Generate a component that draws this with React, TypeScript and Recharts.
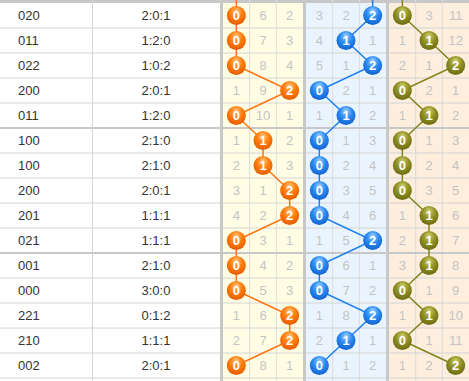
import React from 'react';
import { ScatterChart, Scatter, XAxis, YAxis, ReferenceArea, ReferenceLine } from 'recharts';

// draw numbers (one digit per position) and the 0:1:2 ratio of each draw
const drawNumbers = ['020', '011', '022', '200', '011', '100', '100', '200', '201', '021', '001', '000', '221', '210', '002'];
const drawRatios = ['2:0:1', '1:2:0', '1:0:2', '2:0:1', '1:2:0', '2:1:0', '2:1:0', '2:0:1', '1:1:1', '1:1:1', '2:1:0', '3:0:0', '0:1:2', '1:1:1', '2:0:1'];

// miss counts for values 0 / 1 / 2 in each position (0 where the value hit)
const firstMiss = [
  [0, 6, 2], [0, 7, 3], [0, 8, 4], [1, 9, 0], [0, 10, 1],
  [1, 0, 2], [2, 0, 3], [3, 1, 0], [4, 2, 0], [0, 3, 1],
  [0, 4, 2], [0, 5, 3], [1, 6, 0], [2, 7, 0], [0, 8, 1],
];
const secondMiss = [
  [3, 2, 0], [4, 0, 1], [5, 1, 0], [0, 2, 1], [1, 0, 2],
  [0, 1, 3], [0, 2, 4], [0, 3, 5], [0, 4, 6], [1, 5, 0],
  [0, 6, 1], [0, 7, 2], [1, 8, 0], [2, 0, 1], [0, 1, 2],
];
const thirdMiss = [
  [0, 3, 11], [1, 0, 12], [2, 1, 0], [0, 2, 1], [1, 0, 2],
  [0, 1, 3], [0, 2, 4], [0, 3, 5], [1, 0, 6], [2, 0, 7],
  [3, 0, 8], [0, 1, 9], [1, 0, 10], [0, 1, 11], [1, 2, 0],
];
// value of the draw just above the visible part (trend lines come in from the top)
const previousHits = [0, 2, 0];

const W = 469;
const H = 381;
const ROW_DOMAIN: [number, number] = [-0.62, 14.62];
const FONT = '"Liberation Sans", Arial, sans-serif';

const groups = [
  { id: 'p1', miss: firstMiss, bg: '#fffde4', line: '#ff7410', light: '#ffc27a', mid: '#ff7d0c', dark: '#e45c00', pad: { left: 223, right: 166 } },
  { id: 'p2', miss: secondMiss, bg: '#eaf4fe', line: '#1f80ef', light: '#9ccfff', mid: '#2b8bf2', dark: '#1262cf', pad: { left: 306, right: 83 } },
  { id: 'p3', miss: thirdMiss, bg: '#fdeedd', line: '#83831a', light: '#cfcf6a', mid: '#909026', dark: '#6c6c10', pad: { left: 389, right: 0 } },
];

const ballShape = (g: any) => (props: any) => {
  const { cx, cy, payload } = props;
  if (payload.row < 0) return <g />;
  return (
    <g>
      <circle cx={cx} cy={cy} r={9.5} fill={`url(#ball-${g.id})`} />
      <text x={cx} y={cy + 4.5} textAnchor="middle" fill="#fff" fontSize={13} fontWeight="bold" fontFamily={FONT}>
        {payload.col}
      </text>
    </g>
  );
};

const missShape = (props: any) => {
  const { cx, cy, payload } = props;
  return (
    <text x={cx} y={cy + 4.5} textAnchor="middle" fill="#c4c4c4" fontSize={13} fontFamily={FONT}>
      {payload.value}
    </text>
  );
};

const infoShape = (props: any) => {
  const { cy, payload } = props;
  return (
    <g fontSize={13} fontFamily={FONT} fill="#333">
      <text x={18} y={cy + 4.5}>{payload.num}</text>
      <text x={156} y={cy + 4.5} textAnchor="middle">{payload.ratio}</text>
    </g>
  );
};

export default function App() {
  const rows = drawNumbers.map((_, i) => i);
  const infoData = drawNumbers.map((num, i) => ({ col: 0, row: i, num, ratio: drawRatios[i] }));

  return (
    <div style={{ position: 'absolute', left: 0, top: 0, width: W, height: H, background: '#fff' }}>
      <ScatterChart width={W} height={H} margin={{ top: 0, right: 0, bottom: 0, left: 0 }}>
        <defs>
          {groups.map((g) => (
            <radialGradient key={g.id} id={`ball-${g.id}`} cx="50%" cy="40%" r="60%" fx="50%" fy="22%">
              <stop offset="0%" stopColor={g.light} />
              <stop offset="55%" stopColor={g.mid} />
              <stop offset="100%" stopColor={g.dark} />
            </radialGradient>
          ))}
        </defs>
        <XAxis xAxisId="info" type="number" dataKey="col" domain={[0, W]} hide allowDataOverflow />
        {groups.map((g) => (
          <XAxis key={g.id} xAxisId={g.id} type="number" dataKey="col" domain={[-0.5, 2.5]} padding={g.pad} hide allowDataOverflow />
        ))}
        <YAxis type="number" dataKey="row" domain={ROW_DOMAIN} reversed hide allowDataOverflow />

        {groups.map((g) => (
          <ReferenceArea key={`bg-${g.id}`} xAxisId={g.id} x1={-0.5} x2={2.5} y1={ROW_DOMAIN[0]} y2={ROW_DOMAIN[1]}
            fill={g.bg} fillOpacity={1} stroke="none" ifOverflow="visible" />
        ))}
        <ReferenceArea xAxisId="info" x1={0} x2={W} y1={ROW_DOMAIN[0]} y2={-0.5} fill="#c8c8c8" fillOpacity={1} stroke="none" ifOverflow="visible" />

        {groups.flatMap((g) => [0.5, 1.5].map((x) => (
          <ReferenceLine key={`v-${g.id}-${x}`} xAxisId={g.id} x={x} stroke="#dcdcdc" strokeWidth={1} ifOverflow="visible" />
        )))}
        {rows.map((r) => (
          <ReferenceLine key={`h-${r}`} xAxisId="info" y={r + 0.5} stroke={(r + 1) % 5 === 0 && r < 14 ? '#c8c8c8' : '#d4d4d4'}
            strokeWidth={(r + 1) % 5 === 0 && r < 14 ? 2 : 1} ifOverflow="visible" />
        ))}
        <ReferenceLine xAxisId="info" x={92.5} stroke="#d4d4d4" strokeWidth={1} ifOverflow="visible" />
        {[221.5, 304.5, 387.5].map((x) => (
          <ReferenceLine key={`b-${x}`} xAxisId="info" x={x} stroke="#c8c8c8" strokeWidth={3} ifOverflow="visible" />
        ))}

        <Scatter xAxisId="info" data={infoData} shape={infoShape} isAnimationActive={false} />

        {groups.map((g, gi) => {
          const missData = g.miss.flatMap((vals, row) =>
            vals.map((value, col) => ({ col, row, value, hit: Number(drawNumbers[row][gi]) }))
              .filter((d) => d.col !== d.hit)
          );
          return <Scatter key={`m-${g.id}`} xAxisId={g.id} data={missData} shape={missShape} isAnimationActive={false} />;
        })}

        {groups.map((g, gi) => {
          const hitData = [
            { col: previousHits[gi], row: -1 },
            ...drawNumbers.map((n, row) => ({ col: Number(n[gi]), row })),
          ];
          return (
            <Scatter key={`h-${g.id}`} xAxisId={g.id} data={hitData} line={{ stroke: g.line, strokeWidth: 1.5 }}
              lineType="joint" shape={ballShape(g)} isAnimationActive={false} />
          );
        })}
      </ScatterChart>
    </div>
  );
}
